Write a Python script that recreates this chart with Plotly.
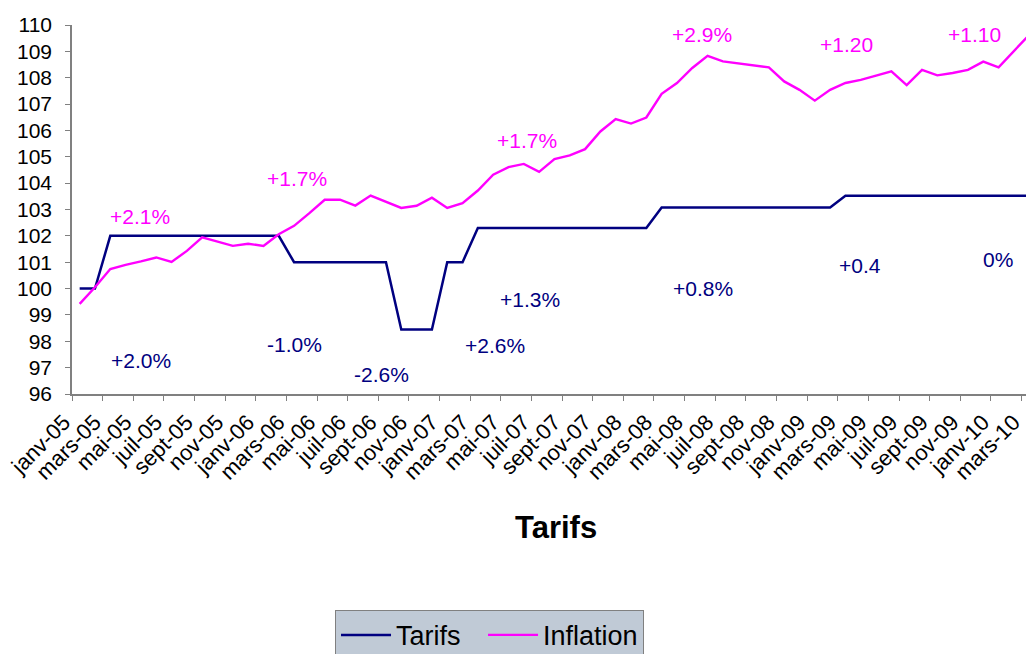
import plotly.graph_objects as go

# ---- data ----
month_names = ["janv", "févr", "mars", "avr", "mai", "juin",
               "juil", "août", "sept", "oct", "nov", "déc"]
categories = [f"{month_names[m]}-{y:02d}" for y in range(5, 11) for m in range(12)][:63]

tarifs = ([100.0] * 2 + [102.0] * 12 + [101.0] * 7 + [98.45] * 3 + [101.0] * 2
          + [102.3] * 12 + [103.08] * 12 + [103.52] * 13)

inflation = [99.42, 100.05, 100.74, 100.90, 101.03, 101.18, 101.01, 101.43, 101.94, 101.79,
             101.62, 101.70, 101.62, 102.06, 102.38, 102.86,
             103.37, 103.37, 103.15, 103.53, 103.30, 103.06, 103.14, 103.45, 103.06, 103.24,
             103.72, 104.32, 104.61, 104.73, 104.43,
             104.91, 105.05, 105.29, 105.96, 106.43, 106.26, 106.49, 107.39, 107.80, 108.37,
             108.83, 108.62, 108.55, 108.48, 108.39,
             107.86, 107.54, 107.13, 107.54, 107.80, 107.92, 108.08, 108.24, 107.72, 108.30,
             108.09, 108.18, 108.30, 108.61, 108.39, 109.00, 109.63]

tick_labels = categories[0::2]
y_ticks = list(range(96, 111))

# change labels: (text, x position in category units, y value)
infl_labels = [("+2.1%", 3.94, 102.73), ("+1.7%", 14.19, 104.16), ("+1.7%", 29.21, 105.61),
               ("+2.9%", 40.64, 109.63), ("+1.20", 50.04, 109.25), ("+1.10", 58.40, 109.63)]
tarif_labels = [("+2.0%", 4.01, 97.26), ("-1.0%", 14.06, 97.87), ("-2.6%", 19.74, 96.73),
                ("+2.6%", 27.12, 97.83), ("+1.3%", 29.41, 99.57), ("+0.8%", 40.70, 99.99),
                ("+0.4", 50.95, 100.86), ("0%", 59.96, 101.09)]

NAVY = "#000080"
MAGENTA = "#FF00FF"
FONT = "Liberation Sans, Arial, sans-serif"

x_idx = list(range(len(categories)))
boundaries = [k - 0.5 for k in range(0, len(categories), 2)]

fig = go.Figure()
fig.add_trace(go.Scatter(x=x_idx, y=tarifs, mode="lines", name="Tarifs",
                         line=dict(color=NAVY, width=2.5), text=categories,
                         legendwidth=82))
fig.add_trace(go.Scatter(x=x_idx, y=inflation, mode="lines", name="Inflation",
                         line=dict(color=MAGENTA, width=2.4), text=categories))

annotations = []
for t, x, y in infl_labels:
    annotations.append(dict(x=x, y=y, xref="x", yref="y", text=t, showarrow=False,
                            font=dict(family=FONT, size=21, color=MAGENTA)))
for t, x, y in tarif_labels:
    annotations.append(dict(x=x, y=y, xref="x", yref="y", text=t, showarrow=False,
                            font=dict(family=FONT, size=21, color=NAVY)))
annotations.append(dict(x=0.507, y=-0.362, xref="paper", yref="paper", text="<b>Tarifs</b>",
                        showarrow=False, xanchor="center", yanchor="middle",
                        font=dict(family=FONT, size=31, color="black")))

fig.update_layout(
    width=1026, height=664,
    margin=dict(l=72, r=0, t=25, b=270, pad=0),
    paper_bgcolor="white", plot_bgcolor="white",
    font=dict(family=FONT, size=21, color="black"),
    annotations=annotations,
    legend=dict(orientation="h", x=0.2757, xanchor="left", y=-0.585, yanchor="top",
                bgcolor="#C0CAD6", bordercolor="#808080", borderwidth=1,
                itemwidth=50,
                font=dict(family=FONT, size=27, color="black")),
    xaxis=dict(range=[-0.5, 61.79], tickmode="array",
               tickvals=boundaries, ticktext=tick_labels, tickangle=-45,
               ticks="outside", ticklen=5, tickcolor="#808080",
               ticklabelshift=-8, ticklabeloverflow="allow",
               showline=True, linecolor="#808080", linewidth=1.5,
               showgrid=False, zeroline=False, automargin=False,
               tickfont=dict(family=FONT, size=22, color="black")),
    yaxis=dict(range=[96, 110], tickmode="array", tickvals=y_ticks,
               ticks="outside", ticklen=5, tickcolor="#808080",
               showline=True, linecolor="#808080", linewidth=1.5,
               showgrid=False, zeroline=False, automargin=False,
               ticklabelstandoff=9, ticklabeloverflow="allow",
               tickfont=dict(family=FONT, size=21, color="black")),
)

fig.write_html("out.html", config={"displayModeBar": False},
               post_script="document.body.style.margin='0px';"
                           "document.body.style.overflow='hidden';")
